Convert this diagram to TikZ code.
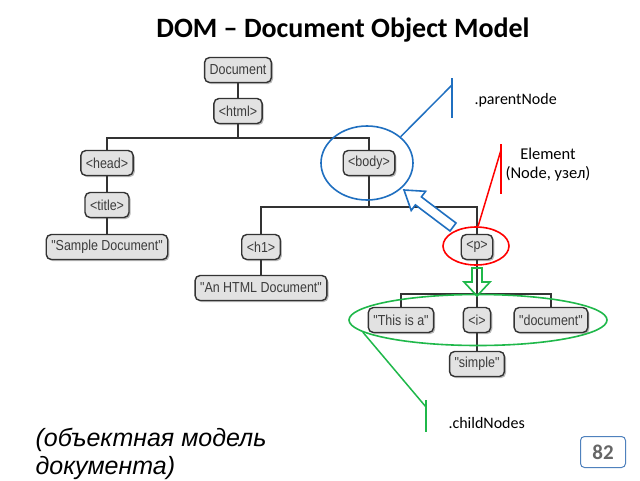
\documentclass[tikz,border=0pt]{standalone}
\usepackage{fontspec}
\setmainfont{Carlito}
\newfontfamily\treefont{Liberation Sans}[FakeStretch=0.86]
\newfontfamily\rufont{Liberation Sans}
\usetikzlibrary{shapes.geometric,shadows}
\definecolor{boxfill}{HTML}{E2E2E2}
\definecolor{boxline}{HTML}{333333}
\definecolor{treetext}{HTML}{3C3C3C}
\definecolor{myblue}{HTML}{1F6FC0}
\definecolor{myred}{HTML}{FF0000}
\definecolor{mygreen}{HTML}{1FB84A}
\definecolor{pagebox}{HTML}{4F81BD}
\tikzset{
  dombox/.style={draw=boxline, line width=1.4pt, fill=boxfill, rounded corners=5pt,
    minimum height=25pt, inner xsep=5pt, inner ysep=2pt,
    font=\treefont\fontsize{14.5}{16}\selectfont, text=treetext,
    drop shadow={shadow xshift=1.6pt, shadow yshift=-1.6pt, fill=black!45, opacity=0.6}},
  treeline/.style={draw=boxline, line width=1.4pt},
  hollowarrow/.style={line width=1.6pt, line join=miter},
  callout/.style={line width=1.5pt},
  marktext/.style={font=\fontsize{16}{18}\selectfont, text=black},
}
\begin{document}
\begin{tikzpicture}[x=1pt,y=-1pt]
\useasboundingbox (0,0) rectangle (640,480);
\fill[white] (0,0) rectangle (640,480);

% title
\node[font=\bfseries\fontsize{28}{32}\selectfont] (title) at (343,30) {DOM -- Document Object Model};

% bus coordinates
\coordinate (bus1) at (0,138);
\coordinate (bus2) at (0,207);
\coordinate (bus3) at (0,294);

% tree nodes
\node[dombox] (doc) at (238,70) {Document};
\node[dombox] (html) at (238,111) {<html>};
\node[dombox] (head) at (107,163) {<head>};
\node[dombox] (titleel) at (107,205) {<title>};
\node[dombox] (sample) at (107,247) {"Sample Document"};
\node[dombox] (body) at (369,163) {<body>};
\node[dombox] (h1) at (261,247) {<h1>};
\node[dombox] (htmldoc) at (261,288) {"An HTML Document"};
\node[dombox] (p) at (477,247) {<p>};
\node[dombox] (thisis) at (401,320) {"This is a"};
\node[dombox] (i) at (477,320) {<i>};
\node[dombox] (document) at (551,320) {"document"};
\node[dombox] (simple) at (477,364) {"simple"};

% tree connectors
\draw[treeline] (doc) -- (html);
\draw[treeline] (html.south) -- (html.south |- bus1);
\draw[treeline] (head.north) -- (head.north |- bus1) -| (body.north);
\draw[treeline] (head) -- (titleel);
\draw[treeline] (titleel) -- (sample);
\draw[treeline] (body.south) -- (body.south |- bus2);
\draw[treeline] (h1.north) -- (h1.north |- bus2) -| (p.north);
\draw[treeline] (h1) -- (htmldoc);
\draw[treeline] (p.south) -- (p.south |- bus3);
\draw[treeline] (thisis.north) -- (thisis.north |- bus3) -| (document.north);
\draw[treeline] (i.north) -- (i.north |- bus3);
\draw[treeline] (i) -- (simple);

% ellipses
\node[draw=myblue, ellipse, line width=1.6pt, minimum width=92pt, minimum height=74pt, inner sep=0pt] (bell) at (367,163) {};
\node[draw=myred, ellipse, line width=1.6pt, minimum width=66pt, minimum height=38pt, inner sep=0pt] (rell) at (476,246) {};
\node[draw=mygreen, ellipse, line width=1.6pt, minimum width=258pt, minimum height=51pt, inner sep=0pt] (gell) at (478,320) {};

% blue callout
\coordinate (bluetip) at (452,85);
\coordinate (bluetop) at (452,78);
\coordinate (bluebot) at (452,118);
\draw[callout, myblue] (bell.38) -- (bluetip);
\draw[callout, myblue] (bluetop) -- (bluebot);
\node[marktext, anchor=west] (parentnode) at (471,100) {.parentNode};

% red callout
\coordinate (redtip) at (501,150);
\coordinate (redtop) at (501,144);
\coordinate (redbot) at (501,194);
\draw[callout, myred] (rell.84) -- (redtip);
\draw[callout, myred] (redtop) -- (redbot);
\node[marktext, align=center, font=\fontsize{16.5}{19}\selectfont] (element) at (548,165) {Element\\(Node, узел)};

% green callout
\coordinate (greentip) at (426,407);
\coordinate (greentop) at (426,400);
\coordinate (greenbot) at (426,432);
\draw[callout, mygreen] (gell.186) -- (greentip);
\draw[callout, mygreen] (greentop) -- (greenbot);
\node[marktext, anchor=west] (childnodes) at (445,423) {.childNodes};

% blue hollow arrow (towards parent)
\draw[hollowarrow, myblue, fill=white] (456.0,223.0) -- (421.4,196.9) -- (425.6,191.3) -- (404,190)
  -- (411.2,210.5) -- (415.4,204.9) -- (450.0,231.0) -- cycle;

% green hollow arrow (towards children)
\draw[hollowarrow, mygreen] (472,268) -- (482,268) -- (482,282) -- (490,282) -- (477,296)
  -- (464,282) -- (472,282) -- cycle;

% bottom text
\node[anchor=west, font=\rufont\itshape\fontsize{25}{28}\selectfont] (ru1) at (32,440) {(объектная модель};
\node[anchor=west, font=\rufont\itshape\fontsize{25}{28}\selectfont] (ru2) at (32,468) {документа)};

% page number
\node[draw=pagebox, line width=1pt, rounded corners=4pt, minimum width=45pt, minimum height=31pt,
  text=black!60, font=\bfseries\fontsize{21}{24}\selectfont] (pagenum) at (603,452) {82};
\end{tikzpicture}
\end{document}
